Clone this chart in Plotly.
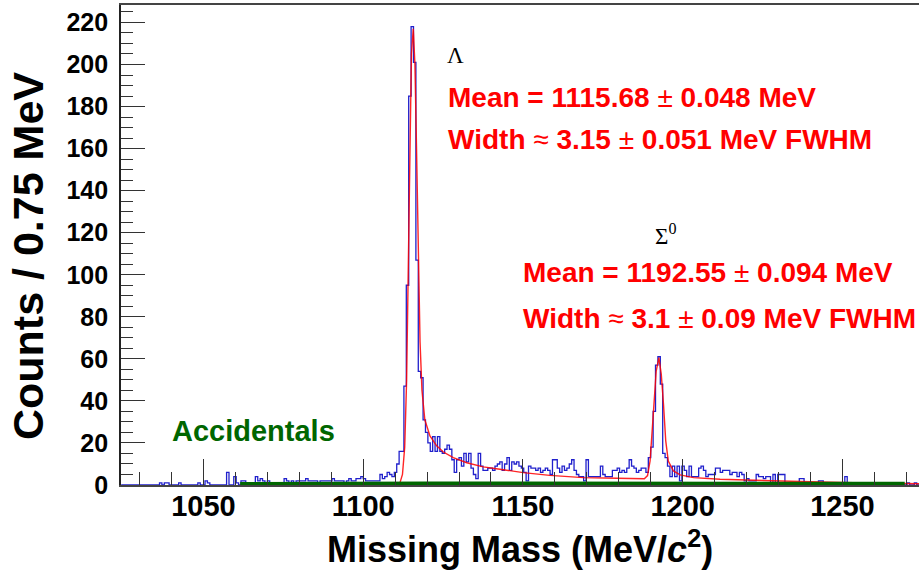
import plotly.graph_objects as go

# ---------------- data ----------------
BIN_START = 1024.25   # MeV, left edge of first bin
BIN_WIDTH = 0.75      # MeV per bin

# histogram counts per 0.75 MeV bin
counts = (
    [0] * 16 +
    [1, 0, 1, 1, 0, 0, 0, 0, 1, 0, 0, 0, 0, 0, 0, 0,            # 16-31
     1, 0, 0, 2, 1, 0, 0, 0, 0, 0, 0, 0, 6, 0, 0, 4,            # 32-47
     1, 0, 2, 2, 0, 1, 0, 1, 4, 2, 3, 2, 1, 2, 1, 1,            # 48-63
     1, 1, 1, 1, 3, 2, 1, 2, 1, 2, 2, 2, 2, 3, 2, 2,            # 64-79
     2, 2, 1, 2, 2, 2, 2, 2, 3, 2, 2, 2, 2, 1, 2, 3,            # 80-95
     2, 2, 3, 3, 4, 3, 2, 2, 2, 2, 2, 2, 5, 3, 4, 6,            # 96-111
     5, 4, 6, 10, 16, 16, 47, 95, 185, 218, 201, 107, 54, 51, 31, 25,   # 112-127
     20, 16, 23, 16, 23, 16, 15, 17, 19, 17, 12, 6, 12, 13, 9, 15,     # 128-143
     11, 15, 8, 5, 3, 15, 9, 7, 7, 8, 8, 7, 9, 10, 11, 7,        # 144-159
     10, 13, 7, 11, 10, 11, 9, 8, 6, 2, 9, 8, 8, 7, 8, 6,        # 160-175
     7, 8, 7, 5, 12, 12, 8, 6, 9, 7, 8, 10, 12, 7, 5, 4,         # 176-191
     4, 2, 12, 4, 4, 4, 4, 4, 9, 5, 4, 4, 4, 7, 7, 8,            # 192-207
     6, 7, 6, 8, 12, 9, 8, 6, 7, 8, 8, 6, 13, 18, 35, 57,        # 208-223
     61, 48, 15, 13, 9, 4, 9, 4, 9, 2, 9, 7, 4, 9, 4, 4,         # 224-239
     4, 8, 9, 7, 4, 5, 5, 5, 8, 8, 6, 7, 7, 7, 5, 6,             # 240-255
     6, 4, 6, 5, 2, 3, 2, 2, 2, 5, 4, 4, 3, 4, 4, 1,             # 256-271
     5, 1, 5, 5, 5, 1, 0, 0, 0, 0, 0, 3, 3, 0, 0, 0,             # 272-287
     0, 0, 0, 2, 2, 0, 0, 0, 0, 0, 0, 0, 0, 0, 4, 0,             # 288-303
     0, 0, 0, 0, 0, 0, 0, 0, 0, 0, 0, 0, 0, 0, 0, 0,             # 304-319
     0, 0, 0, 0, 0, 1, 0, 0, 1, 0, 0, 1, 0, 0, 0]                # 320-334
)

# fitted curve (red)
fit_x = [1110.5, 1111.5, 1112.3, 1113.0, 1113.6, 1114.1, 1114.6, 1115.1, 1115.68,
         1116.2, 1116.7, 1117.26, 1117.8, 1118.4, 1119.3, 1120.9, 1123.0, 1125.1,
         1128.2, 1132.4, 1137.6, 1142.8, 1150.1, 1158.4, 1168.9, 1179.3, 1188.0,
         1189.0, 1189.8, 1190.8, 1191.7, 1192.55, 1193.3, 1194.0, 1194.7, 1195.5,
         1197.1, 1199.2, 1203.4, 1211.7, 1222.1, 1232.6, 1243.0, 1253.4, 1263.9, 1274.0]
fit_y = [0, 1, 5, 18, 50, 108, 165, 205, 217,
         200, 160, 108, 68, 45, 31, 23.3, 18.6, 15.7,
         13, 10.6, 8.6, 7.5, 5.9, 4.6, 3.5, 3.2, 3.0,
         4.5, 11.4, 33.6, 54, 60.6, 52.7, 38.4, 21, 11.4,
         6.7, 4.8, 3.5, 2.7, 2.2, 1.7, 1.4, 1.1, 1.0, 0.6]

# accidentals (green)
acc_x = [1061.5, 1070, 1080, 1090, 1100, 1110, 1120, 1140, 1160, 1180, 1200,
         1220, 1240, 1260, 1269.5]
acc_y = [0.3, 0.4, 0.4, 0.5, 0.5, 0.6, 0.6, 0.6, 0.6, 0.6, 0.6, 0.6, 0.6, 0.5, 0.5]

X_RANGE = [1024.2, 1273.97]
Y_RANGE = [0, 228.3]

# ---------------- figure ----------------
edges = [BIN_START + BIN_WIDTH * i for i in range(len(counts) + 1)]
hist_x = edges
hist_y = counts + [counts[-1]]

FONT = "Liberation Sans, Arial, Helvetica, sans-serif"
SERIF = "Liberation Serif, Times New Roman, serif"
RED = "#ff0000"
GREEN = "#006600"

fig = go.Figure()
fig.add_trace(go.Scatter(x=hist_x, y=hist_y, mode="lines", line_shape="hv",
                         line=dict(color="#2020cc", width=1.3), hoverinfo="skip"))
fig.add_trace(go.Scatter(x=fit_x, y=fit_y, mode="lines",
                         line=dict(color=RED, width=1.4), opacity=0.85, hoverinfo="skip"))
fig.add_trace(go.Scatter(x=acc_x, y=acc_y, mode="lines",
                         line=dict(color=GREEN, width=4.5), hoverinfo="skip"))

L, R, T, B = 121, 0, 5, 88
W, H = 919, 573
PW, PH = W - L - R, H - T - B

def px(x):
    return (x - L) / PW

def py(y):
    return (H - B - y) / PH

annots = []
def add_text(text, x, y, size, color="black", family=FONT, xanchor="left",
             yanchor="middle", angle=0):
    annots.append(dict(text=text, x=px(x), y=py(y), xref="paper", yref="paper",
                       showarrow=False, xanchor=xanchor, yanchor=yanchor,
                       textangle=angle,
                       font=dict(size=size, color=color, family=family)))

add_text("Λ", 455, 56, 23, family=SERIF, xanchor="center")
add_text("<b>Mean = 1115.68 </b>±<b> 0.048 MeV</b>", 446, 97, 28, color=RED)
add_text("<b>Width </b>≈<b> 3.15 </b>±<b> 0.051 MeV FWHM</b>", 446, 139, 28, color=RED)
add_text("Σ<sup>0</sup>", 665, 234, 23, family=SERIF, xanchor="center")
add_text("<b>Mean = 1192.55 </b>±<b> 0.094 MeV</b>", 521, 272, 28, color=RED)
add_text("<b>Width </b>≈<b> 3.1 </b>±<b> 0.09 MeV FWHM</b>", 521, 318, 28, color=RED)
add_text("<b>Accidentals</b>", 170, 431, 29, color=GREEN)
add_text("<b>Missing Mass (MeV/<i>c</i><sup>2</sup>)</b>", 520, 547, 36, xanchor="center")
add_text("<b>Counts / 0.75 MeV</b>", 28, 256, 43, xanchor="center", angle=-90)

fig.update_layout(
    width=W, height=H,
    margin=dict(l=L, r=R, t=T, b=B, pad=0),
    paper_bgcolor="white", plot_bgcolor="white",
    showlegend=False,
    annotations=annots,
    xaxis=dict(range=X_RANGE, showgrid=False, zeroline=False,
               showline=True, linecolor="#444", linewidth=1.8, mirror=True,
               ticks="inside", ticklen=26, tickwidth=1.4, tickcolor="#333",
               tick0=0, dtick=50,
               minor=dict(ticks="inside", ticklen=13, tickwidth=1.2,
                          tickcolor="#333", dtick=10, tick0=0, showgrid=False),
               tickfont=dict(family=FONT, size=29, color="black", weight="bold"),
               ticklabelstandoff=-6),
    yaxis=dict(range=Y_RANGE, showgrid=False, zeroline=False,
               showline=True, linecolor="#222", linewidth=1.8,
               ticks="inside", ticklen=24, tickwidth=1.4, tickcolor="#333",
               tick0=0, dtick=20,
               minor=dict(ticks="inside", ticklen=12, tickwidth=1.2,
                          tickcolor="#333", dtick=5, tick0=0, showgrid=False),
               tickfont=dict(family=FONT, size=25, color="black", weight="bold"),
               ticklabelstandoff=6),
)

fig.write_html("out.html",
               config={"displayModeBar": False},
               post_script="document.body.style.margin='0';"
                           "document.body.style.overflow='hidden';")
